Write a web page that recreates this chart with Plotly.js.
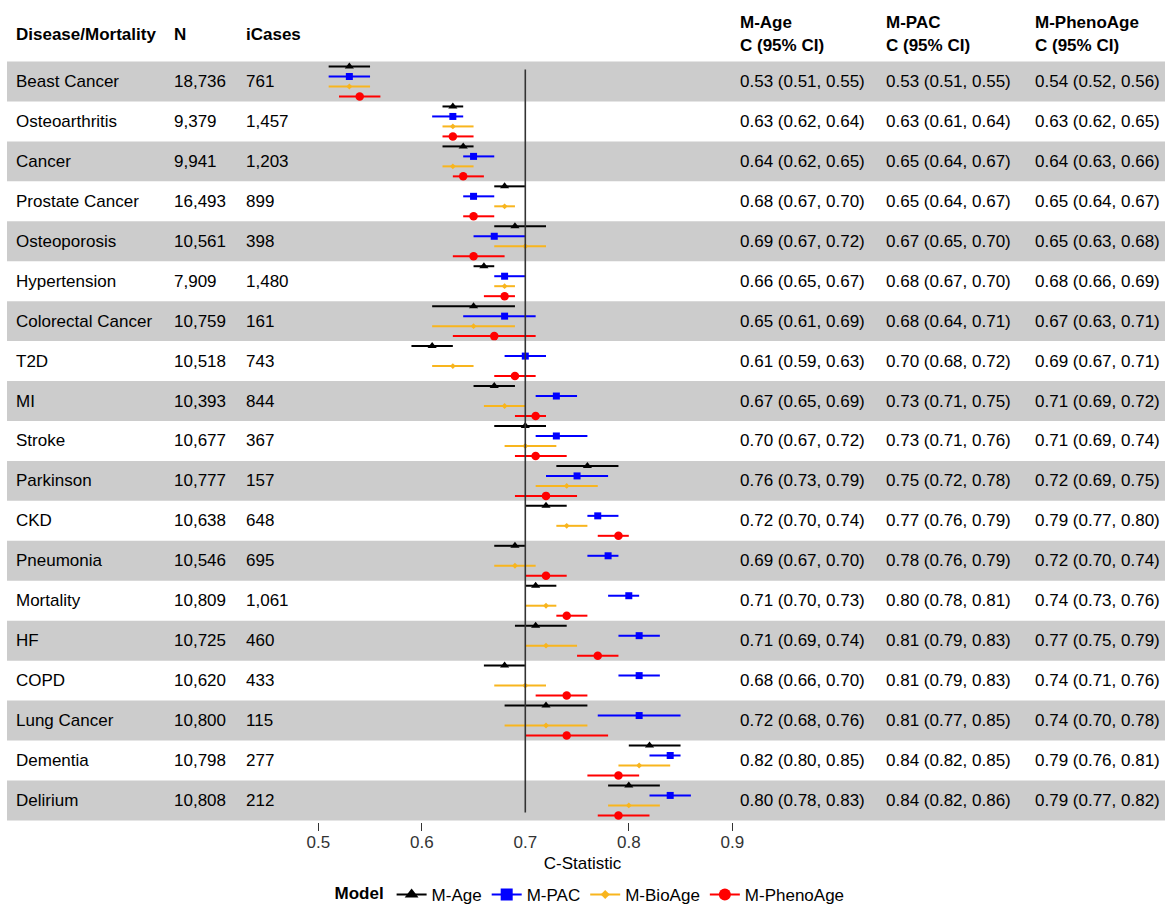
<!DOCTYPE html>
<html><head><meta charset="utf-8">
<script src="https://cdn.plot.ly/plotly-3.0.1.min.js"></script>
<style>html,body{margin:0;padding:0;background:#fff}#chart{width:1165px;height:904px}</style>
</head><body><div id="chart"></div>
<script>
// ---------------- data ----------------
const diseases = ["Beast Cancer","Osteoarthritis","Cancer","Prostate Cancer","Osteoporosis","Hypertension","Colorectal Cancer","T2D","MI","Stroke","Parkinson","CKD","Pneumonia","Mortality","HF","COPD","Lung Cancer","Dementia","Delirium"];
const nTotal = ["18,736","9,379","9,941","16,493","10,561","7,909","10,759","10,518","10,393","10,677","10,777","10,638","10,546","10,809","10,725","10,620","10,800","10,798","10,808"];
const iCases = ["761","1,457","1,203","899","398","1,480","161","743","844","367","157","648","695","1,061","460","433","115","277","212"];

const ageC  = [0.53,0.63,0.64,0.68,0.69,0.66,0.65,0.61,0.67,0.70,0.76,0.72,0.69,0.71,0.71,0.68,0.72,0.82,0.80];
const ageLo = [0.51,0.62,0.62,0.67,0.67,0.65,0.61,0.59,0.65,0.67,0.73,0.70,0.67,0.70,0.69,0.66,0.68,0.80,0.78];
const ageHi = [0.55,0.64,0.65,0.70,0.72,0.67,0.69,0.63,0.69,0.72,0.79,0.74,0.70,0.73,0.74,0.70,0.76,0.85,0.83];

const pacC  = [0.53,0.63,0.65,0.65,0.67,0.68,0.68,0.70,0.73,0.73,0.75,0.77,0.78,0.80,0.81,0.81,0.81,0.84,0.84];
const pacLo = [0.51,0.61,0.64,0.64,0.65,0.67,0.64,0.68,0.71,0.71,0.72,0.76,0.76,0.78,0.79,0.79,0.77,0.82,0.82];
const pacHi = [0.55,0.64,0.67,0.67,0.70,0.70,0.71,0.72,0.75,0.76,0.78,0.79,0.79,0.81,0.83,0.83,0.85,0.85,0.86];

const bioC  = [0.53,0.63,0.63,0.68,0.70,0.68,0.65,0.63,0.68,0.70,0.74,0.74,0.69,0.72,0.72,0.70,0.72,0.81,0.80];
const bioLo = [0.51,0.62,0.62,0.67,0.67,0.67,0.61,0.61,0.66,0.68,0.71,0.73,0.67,0.70,0.70,0.67,0.68,0.79,0.78];
const bioHi = [0.55,0.65,0.65,0.69,0.72,0.69,0.69,0.65,0.70,0.73,0.77,0.76,0.71,0.73,0.75,0.72,0.76,0.84,0.83];

const phenoC  = [0.54,0.63,0.64,0.65,0.65,0.68,0.67,0.69,0.71,0.71,0.72,0.79,0.72,0.74,0.77,0.74,0.74,0.79,0.79];
const phenoLo = [0.52,0.62,0.63,0.64,0.63,0.66,0.63,0.67,0.69,0.69,0.69,0.77,0.70,0.73,0.75,0.71,0.70,0.76,0.77];
const phenoHi = [0.56,0.65,0.66,0.67,0.68,0.69,0.71,0.71,0.72,0.74,0.75,0.80,0.74,0.76,0.79,0.76,0.78,0.81,0.82];

const xTickVals = [0.5,0.6,0.7,0.8,0.9];
const xTickMarks = [0.5,0.6,0.8,0.9];
const refLine = 0.7;

// ---------------- layout helpers ----------------
const FONT = 'Liberation Sans, Arial, Helvetica, sans-serif';
const W = 1165, H = 904, PLOT_BOTTOM = 822;
const ROW0 = 81.5, ROWH = 39.94;
const PX_AT_05 = 318.3, PX_PER_UNIT = 1035;
const xRange = [0.5 - PX_AT_05 / PX_PER_UNIT, 0.5 + (W - PX_AT_05) / PX_PER_UNIT];
const yRange = [(PLOT_BOTTOM - ROW0) / ROWH, (0 - ROW0) / ROWH];
const pyToY = py => (py - ROW0) / ROWH;
const pxToPaper = px => px / W;

const models = [
  {name:'M-Age',      c:ageC,   lo:ageLo,   hi:ageHi,   color:'#000000', symbol:'triangle-up', size:8, offset:-0.375},
  {name:'M-PAC',      c:pacC,   lo:pacLo,   hi:pacHi,   color:'#0000FF', symbol:'square',      size:7, offset:-0.125},
  {name:'M-BioAge',   c:bioC,   lo:bioLo,   hi:bioHi,   color:'#F8B51E', symbol:'diamond',     size:4.5, offset:0.125},
  {name:'M-PhenoAge', c:phenoC, lo:phenoLo, hi:phenoHi, color:'#FF0000', symbol:'circle',      size:8.5, offset:0.375}
];

const traces = [];
models.forEach(m => {
  traces.push({
    type:'scatter', mode:'markers', name:m.name, showlegend:false, hoverinfo:'skip',
    x: m.c, y: m.c.map((v,i) => i + m.offset),
    marker:{color:m.color, symbol:m.symbol, size:m.size, line:{width:0}},
    error_x:{type:'data', symmetric:false,
      array: m.c.map((v,i) => +(m.hi[i]-v).toFixed(4)),
      arrayminus: m.c.map((v,i) => +(v-m.lo[i]).toFixed(4)),
      color:m.color, thickness:2, width:0}
  });
});
// legend entries (placed on the overlay axis that carries the tick marks)
models.forEach(m => {
  traces.push({
    type:'scatter', mode:'lines+markers', name:m.name, showlegend:true, xaxis:'x2', yaxis:'y',
    x:[null], y:[null],
    line:{color:m.color, width:2},
    marker:{color:m.color, symbol:m.symbol, size: m.name==='M-BioAge' ? 7 : 12, line:{width:0}}
  });
});

const fmt = v => v.toFixed(2);
const ci = (m,i) => `${fmt(m.c[i])} (${fmt(m.lo[i])}, ${fmt(m.hi[i])})`;

const annotations = [];
function addText(px, y, text, bold){
  annotations.push({xref:'paper', yref:'y', x:pxToPaper(px), y:y, xanchor:'left', yanchor:'middle',
    text: bold ? `<b>${text}</b>` : text, showarrow:false, borderpad:0,
    font:{family:FONT, size:17, color:'#000'}});
}
const colDisease = 15, colN = 173, colCases = 245, colAge = 739, colPac = 885, colPheno = 1034;
addText(colDisease, pyToY(34), 'Disease/Mortality', true);
addText(colN, pyToY(34), 'N', true);
addText(colCases, pyToY(34), 'iCases', true);
[[colAge,'M-Age'],[colPac,'M-PAC'],[colPheno,'M-PhenoAge']].forEach(([px,t]) => {
  addText(px, pyToY(22), t, true);
  addText(px, pyToY(45), 'C (95% CI)', true);
});
diseases.forEach((d,i) => {
  addText(colDisease, i, d);
  addText(colN, i, nTotal[i]);
  addText(colCases, i, iCases[i]);
  addText(colAge, i, ci(models[0], i));
  addText(colPac, i, ci(models[1], i));
  addText(colPheno, i, ci(models[3], i));
});

const shapes = [];
diseases.forEach((d,i) => {
  if (i % 2 === 0) shapes.push({type:'rect', xref:'paper', yref:'y', x0:pxToPaper(7), x1:1, y0:i-0.5, y1:i+0.5,
    fillcolor:'#CCCCCC', line:{width:0}, layer:'below'});
});
shapes.push({type:'line', xref:'x', yref:'y', x0:refLine, x1:refLine, y0:-0.3, y1:diseases.length-1+0.3,
  line:{color:'#333333', width:1.6}, layer:'above'});

const layout = {
  width:W, height:H,
  margin:{l:0, r:0, t:0, b:H-PLOT_BOTTOM, pad:0, autoexpand:false},
  paper_bgcolor:'#ffffff', plot_bgcolor:'rgba(0,0,0,0)',
  font:{family:FONT, size:17, color:'#000'},
  showlegend:true,
  legend:{orientation:'h', x:pxToPaper(591), xanchor:'center', y:(PLOT_BOTTOM-895)/PLOT_BOTTOM, yanchor:'middle',
    title:{text:'<b>Model</b>', side:'left', font:{family:FONT, size:17, color:'#000'}},
    font:{family:FONT, size:17, color:'#000'}, bgcolor:'rgba(0,0,0,0)', itemwidth:30, tracegroupgap:0},
  xaxis:{domain:[0,1], range:xRange, tickvals:xTickVals, ticktext:xTickVals.map(v=>v.toFixed(1)),
    ticks:'outside', ticklen:8, tickcolor:'rgba(0,0,0,0)', showgrid:false, zeroline:false, showline:false,
    tickfont:{family:FONT, size:17, color:'#333'}, automargin:false, ticklabelstandoff:-3,
    title:{text:'C-Statistic', font:{family:FONT, size:17, color:'#000'}, standoff:5}},
  xaxis2:{overlaying:'x', anchor:'y', side:'bottom', range:xRange, tickvals:xTickMarks, ticks:'outside', ticklen:8,
    tickcolor:'#333333', tickwidth:1.2, showticklabels:false, showgrid:false, zeroline:false, showline:false, automargin:false},
  yaxis:{domain:[0,1], range:yRange, showgrid:false, zeroline:false, showline:false, showticklabels:false, ticks:'', automargin:false},
  annotations, shapes
};

Plotly.newPlot('chart', traces, layout, {staticPlot:true, displayModeBar:false});
</script>
</body></html>
